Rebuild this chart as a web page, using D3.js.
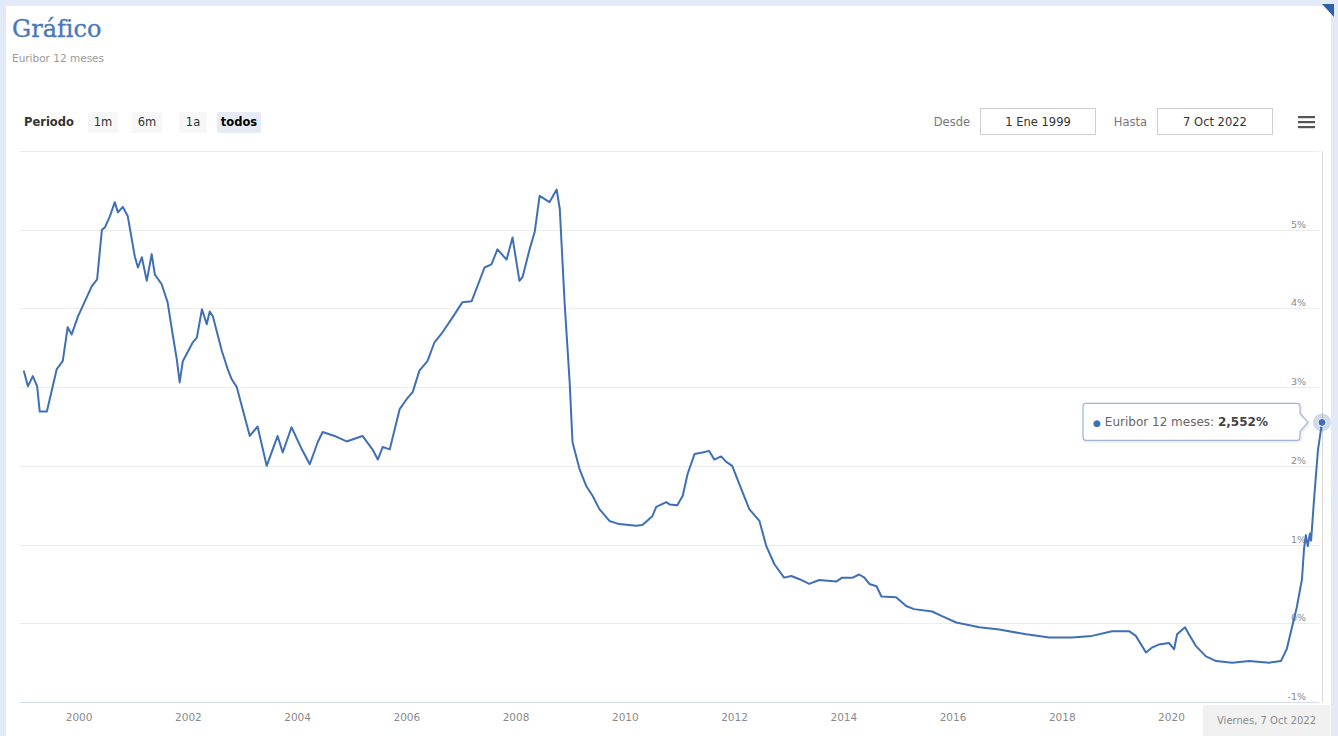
<!DOCTYPE html>
<html lang="es">
<head>
<meta charset="utf-8">
<title>Gráfico - Euribor 12 meses</title>
<script src="https://cdn.jsdelivr.net/npm/d3@7"></script>
<style>
  html, body { margin: 0; padding: 0; background: #e1eaf6; }
  svg { display: block; }
</style>
</head>
<body>
<svg id="chart" width="1338" height="736"></svg>
<script>
// Euribor 12 meses, serie histórica (%)
const dates = [
  "1999-01-01","1999-01-27","1999-03-01","1999-03-30","1999-04-16","1999-06-03","1999-08-08","1999-09-17",
  "1999-10-20","1999-11-16","1999-12-28","2000-03-29","2000-05-04","2000-06-05","2000-06-25","2000-07-28",
  "2000-08-30","2000-09-20","2000-10-23","2000-11-25","2001-01-11","2001-02-01","2001-02-27","2001-04-01",
  "2001-05-04","2001-05-25","2001-07-09","2001-08-18","2001-09-23","2001-10-19","2001-11-07","2001-11-28",
  "2002-02-03","2002-03-02","2002-04-05","2002-05-07","2002-05-27","2002-06-17","2002-08-16","2002-09-24",
  "2002-10-21","2002-11-24","2003-02-19","2003-04-12","2003-06-12","2003-08-24","2003-09-27","2003-11-25",
  "2004-02-02","2004-03-26","2004-05-18","2004-06-20","2004-09-08","2004-11-27","2005-03-14","2005-05-19",
  "2005-06-24","2005-07-27","2005-09-12","2005-11-17","2006-01-04","2006-02-13","2006-03-29","2006-05-22",
  "2006-07-08","2006-09-01","2006-11-07","2007-01-11","2007-03-13","2007-06-08","2007-07-24","2007-09-02",
  "2007-11-02","2007-12-12","2008-01-27","2008-02-17","2008-04-04","2008-05-08","2008-06-10","2008-08-15",
  "2008-10-02","2008-10-23","2008-11-24","2008-12-28","2009-01-16","2009-03-04","2009-04-19","2009-05-30",
  "2009-07-15","2009-09-20","2009-11-24","2010-03-18","2010-04-28","2010-07-04","2010-07-30","2010-10-05",
  "2010-10-27","2010-12-18","2011-01-23","2011-02-25","2011-04-12","2011-06-04","2011-07-19","2011-08-22",
  "2011-10-07","2011-11-10","2011-12-20","2012-02-05","2012-04-12","2012-06-19","2012-08-04","2012-09-27",
  "2012-12-01","2013-01-18","2013-03-14","2013-05-18","2013-07-24","2013-11-14","2013-12-24","2014-03-04",
  "2014-04-17","2014-05-22","2014-06-24","2014-08-11","2014-09-13","2014-12-20","2015-02-25","2015-04-19",
  "2015-08-18","2015-10-23","2016-01-26","2016-05-11","2016-06-28","2016-11-09","2017-05-08","2017-10-09",
  "2018-03-10","2018-07-22","2018-12-03","2019-03-27","2019-05-11","2019-07-18","2019-08-26","2019-10-11",
  "2019-12-18","2020-01-22","2020-02-11","2020-04-04","2020-04-30","2020-06-16","2020-08-22","2020-10-29",
  "2021-02-13","2021-06-07","2021-10-20","2022-01-05","2022-02-13","2022-04-21","2022-05-26","2022-06-09",
  "2022-06-21","2022-07-04","2022-07-18","2022-07-26","2022-08-15","2022-09-10","2022-10-07"
];
const values = [
  3.20, 3.01, 3.14, 3.01, 2.69, 2.69, 3.23, 3.33,
  3.76, 3.67, 3.90, 4.28, 4.37, 5.00, 5.03, 5.17,
  5.35, 5.22, 5.29, 5.17, 4.66, 4.52, 4.65, 4.35,
  4.69, 4.43, 4.31, 4.08, 3.65, 3.35, 3.06, 3.33,
  3.57, 3.63, 3.99, 3.80, 3.96, 3.90, 3.46, 3.23,
  3.10, 3.00, 2.38, 2.50, 2.00, 2.38, 2.17, 2.49,
  2.21, 2.02, 2.30, 2.43, 2.38, 2.31, 2.38, 2.21,
  2.08, 2.24, 2.21, 2.72, 2.85, 2.94, 3.21, 3.33,
  3.57, 3.70, 3.89, 4.08, 4.09, 4.52, 4.56, 4.75,
  4.62, 4.90, 4.35, 4.40, 4.75, 4.97, 5.43, 5.35,
  5.51, 5.26, 4.08, 3.06, 2.30, 1.96, 1.74, 1.62,
  1.45, 1.30, 1.26, 1.24, 1.25, 1.36, 1.48, 1.54,
  1.51, 1.50, 1.62, 1.90, 2.15, 2.17, 2.19, 2.08,
  2.12, 2.05, 2.00, 1.77, 1.45, 1.30, 0.98, 0.75,
  0.58, 0.60, 0.56, 0.50, 0.55, 0.53, 0.58, 0.58,
  0.62, 0.58, 0.50, 0.47, 0.34, 0.33, 0.22, 0.18,
  0.15, 0.09, 0.01, -0.03, -0.05, -0.08, -0.14, -0.18,
  -0.18, -0.16, -0.10, -0.10, -0.16, -0.37, -0.31, -0.27,
  -0.25, -0.33, -0.14, -0.05, -0.14, -0.29, -0.42, -0.48,
  -0.50, -0.48, -0.50, -0.48, -0.33, 0.20, 0.56, 0.95,
  1.12, 0.98, 1.14, 1.05, 1.58, 2.20, 2.552
];
const yTickValues = [-1, 0, 1, 2, 3, 4, 5, 6];
const xTickYears = [2000, 2002, 2004, 2006, 2008, 2010, 2012, 2014, 2016, 2018, 2020];
const rangeButtons = ["1m", "6m", "1a", "todos"];
const selectedRange = "todos";
const seriesName = "Euribor 12 meses";
const rangeStart = "1999-01-01";

// Spanish locale for dates and numbers
const esTime = d3.timeFormatLocale({
  dateTime: "%A, %e de %B de %Y", date: "%d/%m/%Y", time: "%H:%M:%S", periods: ["AM", "PM"],
  days: ["Domingo","Lunes","Martes","Miércoles","Jueves","Viernes","Sábado"],
  shortDays: ["Dom","Lun","Mar","Mié","Jue","Vie","Sáb"],
  months: ["Enero","Febrero","Marzo","Abril","Mayo","Junio","Julio","Agosto","Septiembre","Octubre","Noviembre","Diciembre"],
  shortMonths: ["Ene","Feb","Mar","Abr","May","Jun","Jul","Ago","Sep","Oct","Nov","Dic"]
});
const esNum = d3.formatLocale({ decimal: ",", thousands: ".", grouping: [3], currency: ["", " €"] });
const fmtShort = esTime.format("%-d %b %Y");
const fmtLong = esTime.format("%A, %-d %b %Y");
const fmtValue = v => esNum.format(".3f")(v) + "%";

const parse = d3.timeParse("%Y-%m-%d");
const data = dates.map((d, i) => ({ date: parse(d), value: values[i] }));
const last = data[data.length - 1];

const FONT = "'DejaVu Sans', 'Liberation Sans', sans-serif";
const LINE = "#3f6fb6";

const svg = d3.select("#chart");

// page panel
svg.append("rect").attr("x", 6).attr("y", 6).attr("width", 1325).attr("height", 740)
  .attr("fill", "#ffffff");
// corner ribbon
svg.append("path").attr("d", "M1322,4 L1334,4 L1334,17 Z").attr("fill", "#2f5fa9");

// heading
svg.append("text").attr("x", 12).attr("y", 37)
  .attr("font-family", "'DejaVu Serif', 'Liberation Serif', serif")
  .attr("font-size", 24).attr("fill", "#4a79b9")
  .attr("stroke", "#4a79b9").attr("stroke-width", 0.35)
  .text("Gráfico");
svg.append("text").attr("x", 12).attr("y", 62)
  .attr("font-family", FONT).attr("font-size", 10.5).attr("fill", "#9a9a9a").text(seriesName);

// plot geometry
const plot = { left: 20, right: 1323, top: 151, bottom: 702 };

const x = d3.scaleTime()
  .domain([parse(rangeStart), last.date])
  .range([24, 1322]);
const y = d3.scaleLinear()
  .domain([-1, 6])
  .range([plot.bottom, plot.top]);

// horizontal grid
svg.append("g").selectAll("line").data(yTickValues).join("line")
  .attr("x1", plot.left).attr("x2", plot.right - 4)
  .attr("y1", d => Math.round(y(d)) + 0.5).attr("y2", d => Math.round(y(d)) + 0.5)
  .attr("stroke", d => d === -1 ? "#d5dcea" : "#ececec").attr("stroke-width", 1);

// y labels on the right (top tick has no label)
svg.append("g").selectAll("text").data(yTickValues.filter(d => d < 6)).join("text")
  .attr("x", 1306).attr("y", d => y(d) - 2)
  .attr("text-anchor", "end")
  .attr("font-family", FONT).attr("font-size", 9.5).attr("fill", "#8a8a8a")
  .text(d => `${d}%`);

// x axis labels
const xAxis = d3.axisBottom(x)
  .tickValues(xTickYears.map(yr => new Date(yr, 0, 1)))
  .tickFormat(d3.timeFormat("%Y"))
  .tickSize(0).tickPadding(12);
const gx = svg.append("g").attr("transform", `translate(0,${plot.bottom})`).call(xAxis);
gx.select(".domain").remove();
gx.selectAll("text").attr("font-family", FONT).attr("font-size", 10.5).attr("fill", "#8a8a8a");

// crosshair at hovered point
svg.append("line")
  .attr("x1", Math.round(x(last.date)) + 0.5).attr("x2", Math.round(x(last.date)) + 0.5)
  .attr("y1", plot.top).attr("y2", plot.bottom)
  .attr("stroke", "#d6d6d6").attr("stroke-width", 1);

// series line
const line = d3.line().x(d => x(d.date)).y(d => y(d.value));
svg.append("path").datum(data)
  .attr("d", line)
  .attr("fill", "none").attr("stroke", LINE)
  .attr("stroke-width", 2).attr("stroke-linejoin", "round").attr("stroke-linecap", "round");

// hovered marker with halo
const mx = x(last.date), my = y(last.value);
svg.append("circle").attr("cx", mx).attr("cy", my).attr("r", 9)
  .attr("fill", LINE).attr("fill-opacity", 0.25);
svg.append("circle").attr("cx", mx).attr("cy", my).attr("r", 4)
  .attr("fill", LINE).attr("stroke", "#ffffff").attr("stroke-width", 1);

// tooltip
const defs = svg.append("defs");
const shadow = defs.append("filter").attr("id", "tipShadow")
  .attr("x", "-10%").attr("y", "-30%").attr("width", "120%").attr("height", "160%");
shadow.append("feDropShadow").attr("dx", 1).attr("dy", 1).attr("stdDeviation", 1.2)
  .attr("flood-color", "#000").attr("flood-opacity", 0.12);

const tipR = mx - 22, tipL = 1083, tipT = my - 19, tipB = my + 18, r = 3;
const tipPath = [
  `M${tipL + r},${tipT}`,
  `L${tipR - r},${tipT}`,
  `Q${tipR},${tipT} ${tipR},${tipT + r}`,
  `L${tipR},${my - 9}`,
  `L${mx - 14},${my}`,
  `L${tipR},${my + 9}`,
  `L${tipR},${tipB - r}`,
  `Q${tipR},${tipB} ${tipR - r},${tipB}`,
  `L${tipL + r},${tipB}`,
  `Q${tipL},${tipB} ${tipL},${tipB - r}`,
  `L${tipL},${tipT + r}`,
  `Q${tipL},${tipT} ${tipL + r},${tipT}`, "Z"
].join(" ");
svg.append("path").attr("d", tipPath)
  .attr("fill", "#ffffff").attr("fill-opacity", 0.95)
  .attr("stroke", "#9fb6d6").attr("stroke-width", 1.2)
  .attr("filter", "url(#tipShadow)");
const tipText = svg.append("text").attr("x", tipL + 10).attr("y", my + 4)
  .attr("font-family", FONT).attr("font-size", 12).attr("fill", "#666");
tipText.append("tspan").attr("fill", LINE).attr("font-size", 9).text("●");
tipText.append("tspan").attr("dx", 4).text(`${seriesName}: `);
tipText.append("tspan").attr("font-weight", "bold").attr("fill", "#444").text(fmtValue(last.value));

// crosshair label on the x axis
const chW = 127, chX = 1203;
svg.append("rect").attr("x", chX).attr("y", 705).attr("width", chW).attr("height", 31)
  .attr("fill", "#f1f1f1");
svg.append("text").attr("x", chX + chW / 2).attr("y", 724).attr("text-anchor", "middle")
  .attr("font-family", FONT).attr("font-size", 10).attr("fill", "#8a8a8a")
  .text(fmtLong(last.date));

// range selector
svg.append("text").attr("x", 24).attr("y", 126)
  .attr("font-family", FONT).attr("font-size", 11.5).attr("font-weight", "bold").attr("fill", "#333")
  .text("Periodo");
const btnCenters = [103, 147, 193, 239];
const btnWidths = [30, 30, 28, 44];
const btn = svg.append("g").selectAll("g").data(rangeButtons).join("g");
btn.append("rect")
  .attr("x", (d, i) => btnCenters[i] - btnWidths[i] / 2).attr("y", 112)
  .attr("width", (d, i) => btnWidths[i]).attr("height", 21).attr("rx", 2)
  .attr("fill", d => d === selectedRange ? "#e6ebf5" : "#f7f7f7");
btn.append("text")
  .attr("x", (d, i) => btnCenters[i]).attr("y", 126).attr("text-anchor", "middle")
  .attr("font-family", FONT).attr("font-size", 11.5)
  .attr("font-weight", d => d === selectedRange ? "bold" : "normal")
  .attr("fill", d => d === selectedRange ? "#000" : "#333")
  .text(d => d);

// date range inputs
const inputs = [
  { label: "Desde", lx: 970, bx: 980, text: fmtShort(parse(rangeStart)) },
  { label: "Hasta", lx: 1147, bx: 1157, text: fmtShort(last.date) }
];
const inp = svg.append("g").selectAll("g").data(inputs).join("g");
inp.append("text").attr("x", d => d.lx).attr("y", 126).attr("text-anchor", "end")
  .attr("font-family", FONT).attr("font-size", 11.5).attr("fill", "#777").text(d => d.label);
inp.append("rect").attr("x", d => d.bx + 0.5).attr("y", 108.5).attr("width", 115).attr("height", 26)
  .attr("fill", "#fff").attr("stroke", "#cfcfcf").attr("stroke-width", 1);
inp.append("text").attr("x", d => d.bx + 58).attr("y", 126).attr("text-anchor", "middle")
  .attr("font-family", FONT).attr("font-size", 11.5).attr("fill", "#333").text(d => d.text);

// context menu icon
svg.append("g").selectAll("rect").data([0, 1, 2]).join("rect")
  .attr("x", 1298).attr("y", d => 116 + d * 5).attr("width", 17).attr("height", 2.2)
  .attr("fill", "#555");
</script>
</body>
</html>
